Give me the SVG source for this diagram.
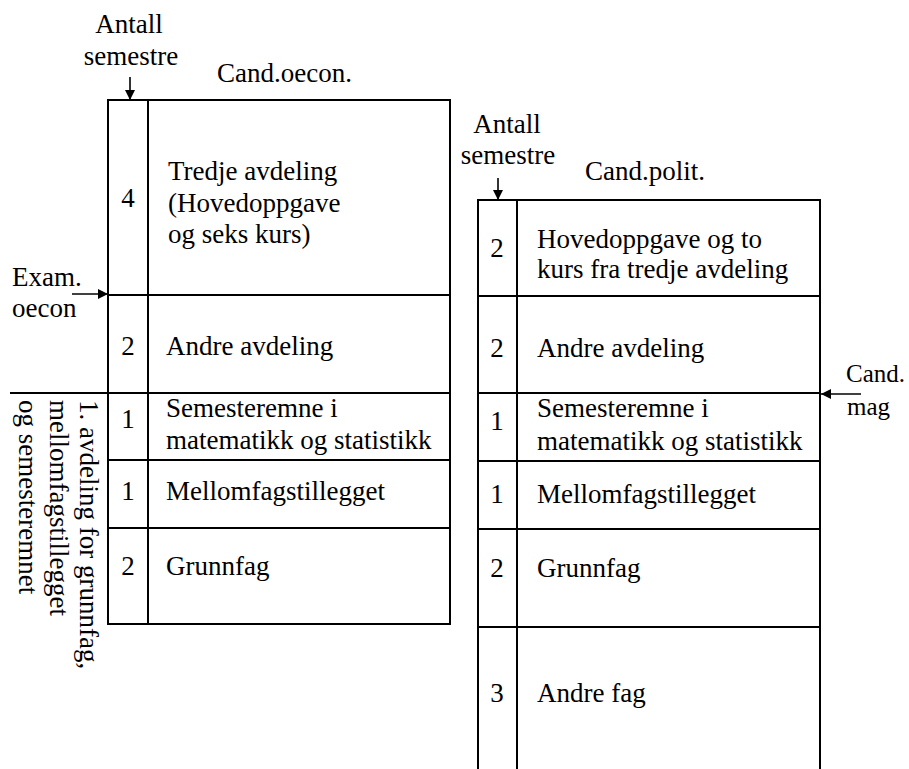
<svg xmlns="http://www.w3.org/2000/svg" width="909" height="769" viewBox="0 0 909 769">
<style>
text{font-family:"Liberation Serif","Times New Roman",serif;font-size:27px;fill:#000}
.c{text-anchor:middle}
.s{font-size:25px}
.b{fill:none;stroke:#000;stroke-width:2}
.a{stroke:#000;stroke-width:1.6;fill:none}
</style>
<defs>
<marker id="ah" viewBox="0 0 10 10" refX="10" refY="5" markerWidth="10" markerHeight="10" markerUnits="userSpaceOnUse" orient="auto">
<path d="M0,0 L10,5 L0,10 Z" fill="#000"/>
</marker>
</defs>
<rect width="909" height="769" fill="#fff"/>

<g id="oecon-box">
<rect class="b" x="108" y="100" width="342" height="524"/>
<line class="b" x1="148" y1="100" x2="148" y2="624"/>
<line class="b" x1="108" y1="295" x2="450" y2="295"/>
<line class="b" x1="10" y1="393" x2="450" y2="393"/>
<line class="b" x1="108" y1="460" x2="450" y2="460"/>
<line class="b" x1="108" y1="528" x2="450" y2="528"/>
<text x="217" y="82">Cand.oecon.</text>
</g>
<g id="oecon-r1">
<text class="c" x="128" y="207">4</text>
<text x="168" y="180">Tredje avdeling</text>
<text x="168" y="212">(Hovedoppgave</text>
<text x="168" y="243">og seks kurs)</text>
</g>
<g id="oecon-r2">
<text class="c" x="128" y="355">2</text>
<text x="166" y="355">Andre avdeling</text>
</g>
<g id="oecon-r3">
<text class="c" x="128" y="428">1</text>
<text x="166" y="417">Semesteremne i</text>
<text x="166" y="449">matematikk og statistikk</text>
</g>
<g id="oecon-r4">
<text class="c" x="128" y="500">1</text>
<text x="166" y="500">Mellomfagstillegget</text>
</g>
<g id="oecon-r5">
<text class="c" x="128" y="575">2</text>
<text x="166" y="575">Grunnfag</text>
</g>

<g id="polit-box">
<path class="b" d="M478,769 L478,200 L820,200 L820,769"/>
<line class="b" x1="517" y1="200" x2="517" y2="769"/>
<line class="b" x1="478" y1="296" x2="820" y2="296"/>
<line class="b" x1="478" y1="393" x2="820" y2="393"/>
<line class="b" x1="478" y1="461" x2="820" y2="461"/>
<line class="b" x1="478" y1="529" x2="820" y2="529"/>
<line class="b" x1="478" y1="627" x2="820" y2="627"/>
<text x="585" y="180">Cand.polit.</text>
</g>
<g id="polit-r1">
<text class="c" x="497" y="257">2</text>
<text x="537" y="248">Hovedoppgave og to</text>
<text x="537" y="278">kurs fra tredje avdeling</text>
</g>
<g id="polit-r2">
<text class="c" x="497" y="357">2</text>
<text x="537" y="357">Andre avdeling</text>
</g>
<g id="polit-r3">
<text class="c" x="497" y="430">1</text>
<text x="537" y="417">Semesteremne i</text>
<text x="537" y="450">matematikk og statistikk</text>
</g>
<g id="polit-r4">
<text class="c" x="497" y="503">1</text>
<text x="537" y="503">Mellomfagstillegget</text>
</g>
<g id="polit-r5">
<text class="c" x="497" y="577">2</text>
<text x="537" y="577">Grunnfag</text>
</g>
<g id="polit-r6">
<text class="c" x="497" y="702">3</text>
<text x="537" y="702">Andre fag</text>
</g>

<g id="label-antall-1">
<text class="c" x="129" y="33">Antall</text>
<text class="c" x="131" y="65">semestre</text>
</g>
<g id="label-antall-2">
<text class="c" x="507" y="133">Antall</text>
<text class="c" x="508" y="164">semestre</text>
</g>
<g id="label-exam">
<text x="12" y="286">Exam.</text>
<text x="12" y="317">oecon</text>
</g>
<g id="label-candmag">
<text class="s" x="846" y="382">Cand.</text>
<text class="s" x="847" y="415">mag</text>
</g>
<g id="label-avdeling">
<text transform="translate(80,400) rotate(90)">1. avdeling for grunnfag,</text>
<text transform="translate(50,400) rotate(90)">mellomfagstillegget</text>
<text transform="translate(19,400) rotate(90)">og semesteremnet</text>
</g>

<g id="connectors">
<line class="a" x1="130" y1="77" x2="130" y2="100" marker-end="url(#ah)"/>
<line class="a" x1="498" y1="178" x2="498" y2="200" marker-end="url(#ah)"/>
<line class="a" x1="72" y1="294" x2="108" y2="294" marker-end="url(#ah)"/>
<line class="a" x1="861" y1="394" x2="821" y2="394" marker-end="url(#ah)"/>
</g>
</svg>
